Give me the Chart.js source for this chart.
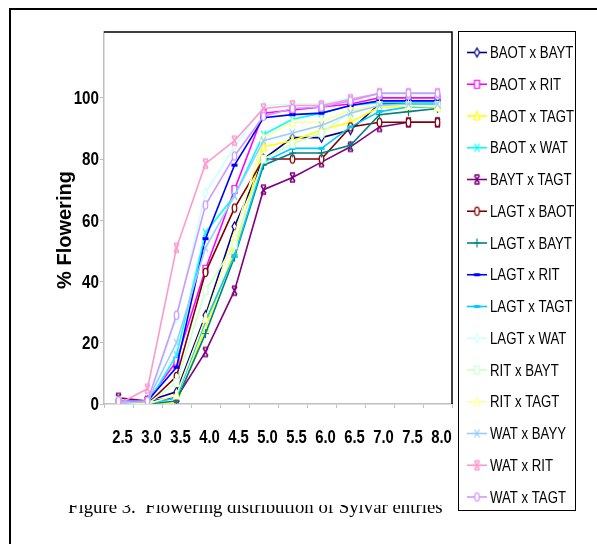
<!DOCTYPE html>
<html>
<head>
<meta charset="utf-8">
<script src="https://cdn.jsdelivr.net/npm/chart.js@4.4.1/dist/chart.umd.min.js"></script>
<style>
  body { margin: 0; background: #fff; }
  #wrap { position: relative; width: 597px; height: 544px; overflow: hidden; background: #fff; }
  #frame { position: absolute; left: 9px; top: 8px; right: -10px; bottom: -10px;
           border-left: 2px solid #000; border-top: 2px solid #000; }
  #chart { position: absolute; left: 0; top: 0; }
  #caption { position: absolute; left: 68px; top: 505px; width: 420px; height: 30px; overflow: hidden; }
  #caption span { position: relative; top: -8px; display: block; white-space: pre;
                  font: 18.8px/19px "Liberation Serif", "Times New Roman", serif; color: #000; }
</style>
</head>
<body>
<div id="wrap">
  <div id="frame"></div>
  <canvas id="chart" width="597" height="544"></canvas>
  <div id="caption"><span>Figure 3.  Flowering distribution of Sylvar entries</span></div>
</div>
<script>
// data

var categories = ["2.5", "3.0", "3.5", "4.0", "4.5", "5.0", "5.5", "6.0", "6.5", "7.0", "7.5", "8.0"];
var yTicks = [0, 20, 40, 60, 80, 100];

var baotBayt = [1, 1, 4, 29, 58, 80, 87, 87, 89.5, 98, 98, 98];
var baotRit = [0, 1, 14, 44, 70, 95, 96, 97, 98, 100, 100, 100];
var baotTagt = [0, 0, 0, 25, 50, 84, 86, 89.5, 92, 97, 97, 97];
var baotWat = [0, 0, 16, 56, 68, 88, 93, 95, 97.5, 98.5, 98.5, 98.5];
var baytTagt = [2, 1, 2, 17, 37, 70, 74, 79, 84, 90.5, 92, 92];
var lagtBaot = [1, 0, 9, 43, 64, 80, 80, 80, 90.5, 92, 92, 92];
var lagtBayt = [0, 0, 1, 23, 48, 78, 82, 82, 84.5, 94.5, 95.5, 96.5];
var lagtRit = [1, 1, 12, 54, 78, 93.5, 94.5, 95, 97.5, 99, 99, 99];
var lagtTagt = [0, 0, 2, 27, 48.5, 79, 83.5, 83.5, 90.5, 95.5, 97, 97];
var lagtWat = [0, 0, 28, 69, 84, 97.5, 98, 98, 100, 101, 101, 101];
var ritBayt = [1, 0, 7, 37, 52, 80, 85, 88.5, 95.5, 97.5, 97.5, 97.5];
var ritTagt = [0, 0, 3, 28, 55, 87, 92, 92, 96, 97.5, 97.5, 97];
var watBayy = [0, 1, 20, 51, 68, 86, 88.5, 91, 95, 97.5, 98, 98];
var watRit = [0, 5, 51, 78.5, 86, 96.5, 97.5, 97.5, 99.5, 101.5, 101.5, 101.5];
var watTagt = [1, 1, 29, 65, 81, 94, 96.5, 97, 99, 101.5, 101.5, 101.5];

var seriesNames = ["BAOT x BAYT", "BAOT x RIT", "BAOT x TAGT", "BAOT x WAT", "BAYT x TAGT",
  "LAGT x BAOT", "LAGT x BAYT", "LAGT x RIT", "LAGT x TAGT", "LAGT x WAT",
  "RIT x BAYT", "RIT x TAGT", "WAT x BAYY", "WAT x RIT", "WAT x TAGT"];
var seriesValues = [baotBayt, baotRit, baotTagt, baotWat, baytTagt, lagtBaot, lagtBayt, lagtRit,
  lagtTagt, lagtWat, ritBayt, ritTagt, watBayy, watRit, watTagt];
var seriesColors = ["#000080", "#ff00ff", "#ffff00", "#00ffff", "#800080", "#800000", "#008080", "#0000ff",
  "#00ccff", "#ccffff", "#ccffcc", "#ffff99", "#99ccff", "#ff99cc", "#cc99ff"];
var seriesMarkers = ["diamond", "square", "triangle", "x", "star", "circle", "plus", "dash",
  "dash", "diamond", "square", "triangle", "x", "star", "circle"];

// markers are narrow, like the squeezed excel picture
function marker(shape, color) {
  var c = document.createElement("canvas");
  c.width = 9; c.height = 13;
  var g = c.getContext("2d");
  g.translate(4.5, 6.5);
  g.strokeStyle = color;
  g.fillStyle = "#fff";
  g.lineWidth = 1.2;
  g.beginPath();
  if (shape == "diamond") {
    g.moveTo(0, -4.5); g.lineTo(2.5, 0); g.lineTo(0, 4.5); g.lineTo(-2.5, 0); g.closePath();
    g.fill(); g.stroke();
  } else if (shape == "square") {
    g.rect(-2.5, -4, 5, 8); g.fill(); g.stroke();
  } else if (shape == "triangle") {
    g.moveTo(0, -4.5); g.lineTo(3, 4); g.lineTo(-3, 4); g.closePath();
    g.fill(); g.stroke();
  } else if (shape == "circle") {
    g.ellipse(0, 0, 2.3, 4.2, 0, 0, Math.PI * 2); g.fill(); g.stroke();
  } else if (shape == "x") {
    g.moveTo(-2.5, -4); g.lineTo(2.5, 4); g.moveTo(2.5, -4); g.lineTo(-2.5, 4); g.stroke();
  } else if (shape == "star") {
    g.lineWidth = 1.5;
    g.moveTo(-2.5, -4); g.lineTo(2.5, 4); g.moveTo(2.5, -4); g.lineTo(-2.5, 4);
    g.moveTo(-2.5, -4.5); g.lineTo(2.5, -4.5); g.moveTo(-2.5, 4.5); g.lineTo(2.5, 4.5);
    g.stroke();
  } else if (shape == "plus") {
    g.moveTo(0, -4.5); g.lineTo(0, 4.5); g.moveTo(-3.5, 0); g.lineTo(3.5, 0); g.stroke();
  } else if (shape == "dash") {
    g.fillStyle = color; g.fillRect(-3, -1.5, 6, 3);
  }
  return c;
}

var sans = '"Liberation Sans", Arial, sans-serif';

var datasets = seriesNames.map(function (name, i) {
  var img = marker(seriesMarkers[i], seriesColors[i]);
  return {
    label: name,
    data: seriesValues[i],
    borderColor: seriesColors[i],
    backgroundColor: seriesColors[i],
    borderWidth: 1.6,
    pointStyle: img,
    pointRadius: 5,
    tension: 0,
    order: seriesNames.length - i,
    markerImg: img,
  };
});

// narrow text, the picture uses a condensed face
function narrowText(ctx, text, x, y, align, sx) {
  ctx.save();
  ctx.translate(x, y);
  ctx.scale(sx, 1);
  ctx.textAlign = align;
  ctx.fillText(text, 0, 0);
  ctx.restore();
}

var framePlugin = {
  id: "frame",
  afterDraw: function (chart) {
    var ctx = chart.ctx;
    var a = chart.chartArea;
    var xs = chart.scales.x;
    var ys = chart.scales.y;
    ctx.save();
    // top and right border of plot
    ctx.strokeStyle = "#000";
    ctx.lineWidth = 1.5;
    ctx.beginPath();
    ctx.moveTo(a.left, a.top);
    ctx.lineTo(a.right, a.top);
    ctx.lineTo(a.right, a.bottom);
    ctx.stroke();

    // tick labels
    ctx.fillStyle = "#000";
    ctx.font = "bold 19px " + sans;
    ctx.textBaseline = "middle";
    categories.forEach(function (c, i) {
      narrowText(ctx, c, xs.getPixelForValue(i) + 4, a.bottom + 34, "center", 0.78);
    });
    yTicks.forEach(function (v) {
      narrowText(ctx, String(v), a.left - 5, ys.getPixelForValue(v) + 1, "right", 0.8);
    });

    // y title
    ctx.translate(65, 230);
    ctx.rotate(-Math.PI / 2);
    ctx.font = "bold 20px " + sans;
    ctx.textAlign = "center";
    ctx.fillText("% Flowering", 0, 0);
    ctx.restore();

    // legend
    ctx.save();
    ctx.strokeStyle = "#000";
    ctx.lineWidth = 1;
    ctx.strokeRect(458.5, 31.5, 117, 479);
    ctx.font = "16.5px " + sans;
    ctx.textBaseline = "middle";
    ctx.fillStyle = "#000";
    chart.data.datasets.forEach(function (ds, i) {
      var y = 52.5 + i * 31.75;
      ctx.strokeStyle = ds.borderColor;
      ctx.lineWidth = 1.6;
      ctx.beginPath();
      ctx.moveTo(467, y);
      ctx.lineTo(487, y);
      ctx.stroke();
      ctx.drawImage(ds.markerImg, 477 - 4.5, y - 6.5);
      narrowText(ctx, ds.label, 490, y + 1, "left", 0.8);
    });
    ctx.restore();
  },
};

var chart = new Chart(document.getElementById("chart"), {
  type: "line",
  data: { labels: categories, datasets: datasets },
  plugins: [framePlugin],
  options: {
    responsive: false,
    animation: false,
    layout: { padding: { left: 10, top: 32, right: 145, bottom: 90 } },
    plugins: { legend: { display: false }, tooltip: { enabled: false } },
    scales: {
      x: {
        offset: true,
        grid: { display: true, drawOnChartArea: false, tickLength: 4, color: "#c0c0c0", offset: true },
        border: { color: "#c0c0c0", width: 1.5 },
        ticks: { display: false, autoSkip: false },
        afterFit: function (s) { s.height = 50; },
      },
      y: {
        min: 0,
        max: 121.5,
        grid: { display: true, drawOnChartArea: false, tickLength: 4, color: "#c0c0c0" },
        border: { color: "#c0c0c0", width: 1.5 },
        ticks: { display: false },
        afterBuildTicks: function (s) { s.ticks = yTicks.map(function (v) { return { value: v }; }); },
        afterFit: function (s) { s.width = 94; },
      },
    },
  },
});
</script>
</body>
</html>
